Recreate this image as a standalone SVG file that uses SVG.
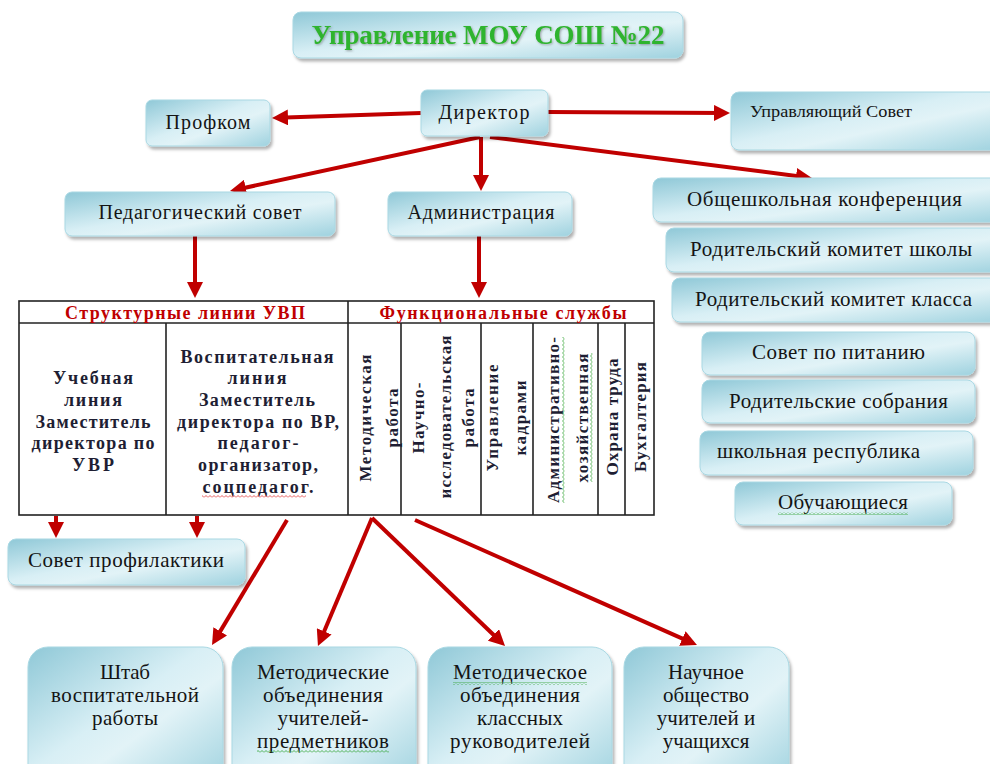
<svg xmlns="http://www.w3.org/2000/svg" width="990" height="764" viewBox="0 0 990 764">
<style>
.box{fill:url(#bg);stroke:#a9d8e3;stroke-width:1;filter:url(#sh)}
.t{font-family:"Liberation Serif","DejaVu Serif","Noto Serif",serif;fill:#141414}
.m{text-anchor:middle}
.cell{font-family:"Liberation Serif","DejaVu Serif","Noto Serif",serif;font-weight:bold;font-size:18px;fill:#1e1e33;text-anchor:middle}
.vc{font-family:"Liberation Serif","DejaVu Serif","Noto Serif",serif;font-weight:bold;font-size:17px;fill:#1e1e33;text-anchor:middle}
.hd{font-family:"Liberation Serif","DejaVu Serif","Noto Serif",serif;font-weight:bold;font-size:18px;fill:#c00000;text-anchor:middle}
.ttl{font-family:"Liberation Serif","DejaVu Serif","Noto Serif",serif;font-weight:bold;font-size:27px;fill:#2db42d;text-anchor:middle}
.ar{stroke:#c00000;stroke-width:4;fill:none;marker-end:url(#ah)}
.tl{fill:none;stroke:#222;stroke-width:1.6}
</style>
<defs>
<linearGradient id="bg" x1="0" y1="0" x2="1" y2="1">
<stop offset="0" stop-color="#8fc8d7"/>
<stop offset="0.45" stop-color="#d8eff5"/>
<stop offset="0.6" stop-color="#e2f3f7"/>
<stop offset="1" stop-color="#9fd2df"/>
</linearGradient>
<filter id="sh" x="-10%" y="-10%" width="120%" height="130%">
<feDropShadow dx="2" dy="3" stdDeviation="1.5" flood-color="#000" flood-opacity="0.3"/>
</filter>
<filter id="tsh" x="-5%" y="-20%" width="110%" height="140%">
<feDropShadow dx="1" dy="1" stdDeviation="0.8" flood-color="#555" flood-opacity="0.5"/>
</filter>
<marker id="ah" markerUnits="userSpaceOnUse" markerWidth="16" markerHeight="16" viewBox="0 0 16 16" refX="10" refY="8" orient="auto">
<path d="M0,0 L16,8 L0,16 z" fill="#c00000"/>
</marker>
<pattern id="wg" width="4" height="3" patternUnits="userSpaceOnUse">
<path d="M0,2.5 L2,0.5 L4,2.5" fill="none" stroke="#2ca02c" stroke-width="0.8"/>
</pattern>
<pattern id="wr" width="4" height="3" patternUnits="userSpaceOnUse">
<path d="M0,2.5 L2,0.5 L4,2.5" fill="none" stroke="#e03030" stroke-width="0.8"/>
</pattern>
</defs>

<g id="title">
<rect class="box" x="293" y="12" width="390" height="46" rx="8"/>
<text class="ttl" x="488" y="44" textLength="353" filter="url(#tsh)">Управление МОУ СОШ №22</text>
</g>

<g id="connectors">
<line class="ar" x1="421" y1="113" x2="278" y2="117.8"/>
<line class="ar" x1="548" y1="112" x2="724" y2="113"/>
<line class="ar" x1="480" y1="137" x2="235.9" y2="189.7"/>
<line class="ar" x1="481" y1="137" x2="481" y2="185"/>
<line class="ar" x1="490" y1="137" x2="806" y2="177.2"/>
<line class="ar" x1="195" y1="236" x2="195" y2="292"/>
<line class="ar" x1="479" y1="236" x2="479" y2="292"/>
<line class="ar" x1="56" y1="516" x2="56" y2="532"/>
<line class="ar" x1="197" y1="516" x2="197" y2="532"/>
<line class="ar" x1="287" y1="520" x2="215.1" y2="639.9"/>
<line class="ar" x1="372" y1="518" x2="320.3" y2="640.5"/>
<line class="ar" x1="372" y1="518" x2="500.7" y2="641.8"/>
<line class="ar" x1="415" y1="520" x2="691.5" y2="642.6"/>
</g>

<g id="director">
<rect class="box" x="421" y="90" width="127" height="46" rx="6"/>
<text class="t m" x="484" y="119" font-size="20" textLength="91">Директор</text>
</g>
<g id="profkom">
<rect class="box" x="146" y="100" width="124" height="46" rx="6"/>
<text class="t m" x="208" y="129" font-size="20" textLength="85">Профком</text>
</g>
<g id="upr-sovet">
<rect class="box" x="731" y="92" width="270" height="58" rx="8"/>
<text class="t" x="750" y="117" font-size="17" textLength="162" lengthAdjust="spacingAndGlyphs">Управляющий Совет</text>
</g>
<g id="ped-sovet">
<rect class="box" x="65" y="192" width="270" height="44" rx="7"/>
<text class="t m" x="200" y="219" font-size="20" textLength="203">Педагогический совет</text>
</g>
<g id="admin">
<rect class="box" x="388" y="192" width="184" height="44" rx="7"/>
<text class="t m" x="481" y="219" font-size="20" textLength="147">Администрация</text>
</g>

<g id="obsh-konf">
<rect class="box" x="653" y="178" width="350" height="44" rx="8"/>
<text class="t" x="687" y="206" font-size="21" textLength="275">Общешкольная конференция</text>
</g>
<g id="rod-kom-shk">
<rect class="box" x="666" y="228" width="340" height="44" rx="8"/>
<text class="t" x="690" y="256" font-size="21" textLength="282">Родительский комитет школы</text>
</g>
<g id="rod-kom-kl">
<rect class="box" x="672" y="278" width="330" height="44" rx="8"/>
<text class="t" x="695" y="306" font-size="21" textLength="277">Родительский комитет класса</text>
</g>
<g id="sovet-pit">
<rect class="box" x="702" y="332" width="273" height="43" rx="8"/>
<text class="t" x="752" y="359" font-size="21" textLength="173">Совет по питанию</text>
</g>
<g id="rod-sobr">
<rect class="box" x="702" y="380" width="273" height="43" rx="8"/>
<text class="t" x="729" y="408" font-size="21" textLength="219">Родительские собрания</text>
</g>
<g id="shk-resp">
<rect class="box" x="700" y="431" width="273" height="44" rx="8"/>
<text class="t" x="717" y="458" font-size="21" textLength="203">школьная республика</text>
</g>
<g id="obuch">
<rect class="box" x="735" y="482" width="217" height="43" rx="8"/>
<text class="t" x="778" y="509" font-size="21" textLength="130">Обучающиеся</text>
<rect x="778" y="512" width="130" height="3" fill="url(#wg)"/>
</g>

<g id="table">
<rect x="19" y="301" width="635" height="214" fill="#dbe5f1" class="tl"/>
<line class="tl" x1="19" y1="323" x2="654" y2="323"/>
<line class="tl" x1="348" y1="301" x2="348" y2="515"/>
<line class="tl" x1="166" y1="323" x2="166" y2="515"/>
<line class="tl" x1="401" y1="323" x2="401" y2="515"/>
<line class="tl" x1="481" y1="323" x2="481" y2="515"/>
<line class="tl" x1="533" y1="323" x2="533" y2="515"/>
<line class="tl" x1="598" y1="323" x2="598" y2="515"/>
<line class="tl" x1="625" y1="323" x2="625" y2="515"/>
<text class="hd" x="185" y="319" textLength="240">Структурные линии УВП</text>
<text class="hd" x="503" y="319" textLength="247">Функциональные службы</text>

<text class="cell" x="93" y="384" textLength="80">Учебная</text>
<text class="cell" x="93" y="406" textLength="58">линия</text>
<text class="cell" x="93" y="428" textLength="115">Заместитель</text>
<text class="cell" x="93" y="449" textLength="123">директора по</text>
<text class="cell" x="93" y="471" textLength="42">УВР</text>

<text class="cell" x="257" y="363" textLength="153">Воспитательная</text>
<text class="cell" x="257" y="384" textLength="59">линия</text>
<text class="cell" x="257" y="406" textLength="116">Заместитель</text>
<text class="cell" x="258" y="428" textLength="162">директора по ВР,</text>
<text class="cell" x="258" y="449" textLength="81">педагог-</text>
<text class="cell" x="258" y="471" textLength="120">организатор,</text>
<text class="cell" x="258" y="493" textLength="111">соцпедагог.</text>
<rect x="202" y="495" width="104" height="3" fill="url(#wr)"/>

<text class="vc" transform="translate(371,418) rotate(-90)" textLength="127">Методическая</text>
<text class="vc" transform="translate(398,418) rotate(-90)" textLength="59">работа</text>
<text class="vc" transform="translate(424,418) rotate(-90)" textLength="71">Научно-</text>
<text class="vc" transform="translate(451,417) rotate(-90)" textLength="163">исследовательская</text>
<text class="vc" transform="translate(474,418) rotate(-90)" textLength="59">работа</text>
<text class="vc" transform="translate(498,418) rotate(-90)" textLength="107">Управление</text>
<text class="vc" transform="translate(526,418) rotate(-90)" textLength="75">кадрами</text>
<text class="vc" transform="translate(559,420) rotate(-90)" textLength="166">Административно-</text>
<text class="vc" transform="translate(588,418) rotate(-90)" textLength="129">хозяйственная</text>
<text class="vc" transform="translate(618,417) rotate(-90)" textLength="117">Охрана труда</text>
<text class="vc" transform="translate(646,417) rotate(-90)" textLength="110">Бухгалтерия</text>
<rect x="0" y="0" width="166" height="3" fill="url(#wg)" transform="translate(562,503) rotate(-90)"/>
<rect x="0" y="0" width="129" height="3" fill="url(#wg)" transform="translate(590,482) rotate(-90)"/>
</g>

<g id="sovet-prof">
<rect class="box" x="8" y="539" width="237" height="46" rx="8"/>
<text class="t" x="28" y="567" font-size="21" textLength="196">Совет профилактики</text>
</g>

<g id="shtab">
<rect class="box" x="28" y="647" width="195" height="140" rx="20"/>
<text class="t m" x="125" y="679" font-size="21" textLength="50">Штаб</text>
<text class="t m" x="125" y="702" font-size="21" textLength="148">воспитательной</text>
<text class="t m" x="125" y="725" font-size="21" textLength="66">работы</text>
</g>
<g id="mo-predm">
<rect class="box" x="232" y="647" width="184" height="140" rx="20"/>
<text class="t m" x="323" y="679" font-size="21" textLength="132">Методические</text>
<text class="t m" x="323" y="702" font-size="21" textLength="120">объединения</text>
<text class="t m" x="323" y="725" font-size="21" textLength="91">учителей-</text>
<text class="t m" x="323" y="748" font-size="21" textLength="132">предметников</text>
<rect x="257" y="750" width="132" height="3" fill="url(#wg)"/>
</g>
<g id="mo-klass">
<rect class="box" x="428" y="647" width="184" height="140" rx="20"/>
<text class="t m" x="520" y="679" font-size="21" textLength="134">Методическое</text>
<text class="t m" x="520" y="702" font-size="21" textLength="120">объединения</text>
<text class="t m" x="520" y="725" font-size="21" textLength="86">классных</text>
<text class="t m" x="520" y="748" font-size="21" textLength="140">руководителей</text>
<rect x="453" y="682" width="134" height="3" fill="url(#wg)"/>
</g>
<g id="nauch-obsh">
<rect class="box" x="624" y="647" width="165" height="140" rx="20"/>
<text class="t m" x="706" y="679" font-size="21">Научное</text>
<text class="t m" x="706" y="702" font-size="21">общество</text>
<text class="t m" x="706" y="725" font-size="21">учителей и</text>
<text class="t m" x="706" y="748" font-size="21">учащихся</text>
</g>
</svg>
